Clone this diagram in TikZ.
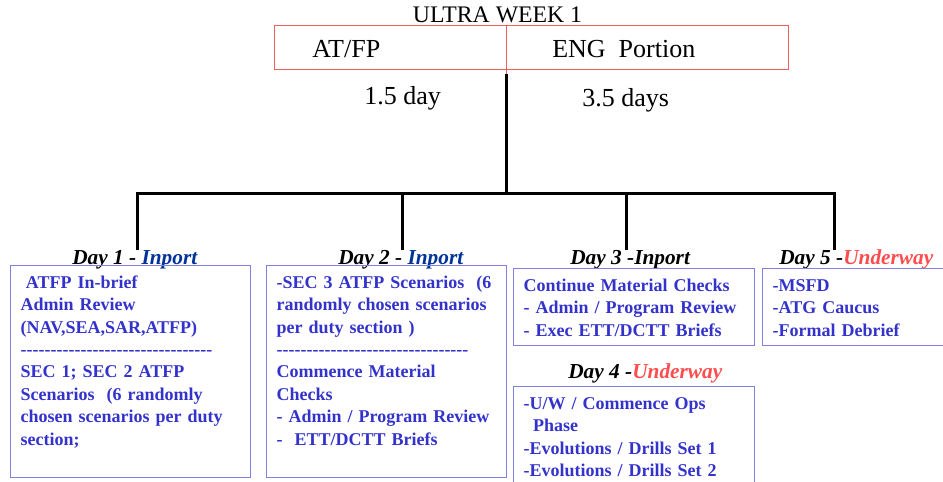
\documentclass[tikz,border=0pt]{standalone}
\usepackage{fontspec}
\setmainfont{Liberation Serif}
\usepackage{tikz}

\definecolor{boxtext}{RGB}{51,51,204}
\definecolor{boxline}{RGB}{128,128,224}
\definecolor{inport}{RGB}{0,51,153}
\definecolor{underway}{RGB}{255,77,77}
\definecolor{weekline}{RGB}{235,95,95}

\newcommand{\onedash}{\mbox{-}}
\newcommand{\fourdash}{\onedash\onedash\onedash\onedash}
\newcommand{\dashrow}{\fourdash\fourdash\fourdash\fourdash\fourdash\fourdash\fourdash\fourdash}

\tikzset{
  daybox/.style={draw=boxline, line width=1, anchor=north west, align=left,
    inner xsep=7.5pt, inner ysep=5pt, text height=12pt, text=boxtext,
    font=\fontsize{13.5}{16.8}\selectfont\bfseries},
  daylabel/.style={anchor=base west, inner sep=0, font=\fontsize{16}{19}\selectfont\bfseries\itshape},
  weeklabel/.style={anchor=base west, inner sep=0, font=\fontsize{19.5}{22}\selectfont},
  tree/.style={-, line width=2.25, color=black},
}

\begin{document}
\begin{tikzpicture}[x=0.75pt, y=-0.75pt]
\useasboundingbox (0,0) rectangle (943,482);
\clip (0,0) rectangle (943,482);

\node[anchor=base, inner sep=0, font=\fontsize{17.8}{20}\selectfont] (ultra week) at (497.5,22) {ULTRA WEEK 1};
\node[draw=weekline, line width=0.75, minimum width=385.5pt, minimum height=33pt, inner sep=0] (week box) at (531,47) {};
\coordinate (split top) at (506,74);
\draw[-, line width=0.75, color=weekline] (week box.north -| split top) -- (split top);

\node[weeklabel] (atfp) at (312,57) {AT/FP};
\node[weeklabel] (eng portion) at (552,57) {ENG\ \ Portion};
\node[weeklabel] (atfp days) at (364,104) {1.5 day};
\node[weeklabel] (eng days) at (582,106) {3.5 days};

\coordinate (split) at (506,193);
\coordinate (drop 1) at (137,250);
\coordinate (drop 2) at (402,250);
\coordinate (drop 3) at (626,250);
\coordinate (drop 5) at (834,250);

\draw[tree] (split top) -- (split);
\draw[tree] (drop 1) -- (drop 1 |- split) -- (drop 5 |- split) -- (drop 5);
\draw[tree] (drop 2) -- (drop 2 |- split);
\draw[tree] (drop 3) -- (drop 3 |- split);

\node[daylabel] (day 1) at (72,264) {Day 1 - \textcolor{inport}{Inport}};
\node[daylabel] (day 2) at (338,264) {Day 2 - \textcolor{inport}{Inport}};
\node[daylabel] (day 3) at (570,264) {Day 3 -Inport};
\node[daylabel] (day 4) at (568,378) {Day 4 -\textcolor{underway}{Underway}};
\node[daylabel] (day 5) at (779,264) {Day 5 -\textcolor{underway}{Underway}};

\node[daybox, text width=165pt, text depth=137pt] (day 1 box) at (10,265) {\hspace*{4pt}ATFP In-brief\\
  Admin Review\\
  (NAV,SEA,SAR,ATFP)\\
  \dashrow\\
  SEC 1; SEC 2 ATFP\\
  Scenarios\ \ (6 randomly\\
  \mbox{chosen scenarios per duty}\\
  section;};
\node[daybox, text width=165pt, text depth=137pt] (day 2 box) at (266,265) {\mbox{-SEC 3 ATFP Scenarios\ \ (6}\\
  \mbox{randomly chosen scenarios}\\
  per duty section )\\
  \dashrow\\
  Commence Material\\
  Checks\\
  \mbox{- Admin / Program Review}\\
  -\ \ ETT/DCTT Briefs};
\node[daybox, text width=165.75pt, text depth=35.75pt] (day 3 box) at (513,268) {\mbox{Continue Material Checks}\\
  \mbox{- Admin / Program Review}\\
  - Exec ETT/DCTT Briefs};
\node[daybox, text width=165.75pt, text depth=100pt] (day 4 box) at (513,386) {-U/W / Commence Ops\\
  \hspace*{7pt}Phase\\
  -Evolutions / Drills Set 1\\
  -Evolutions / Drills Set 2};
\node[daybox, text width=160pt, text depth=35.75pt] (day 5 box) at (762,268) {-MSFD\\
  -ATG Caucus\\
  -Formal Debrief};

\end{tikzpicture}
\end{document}
